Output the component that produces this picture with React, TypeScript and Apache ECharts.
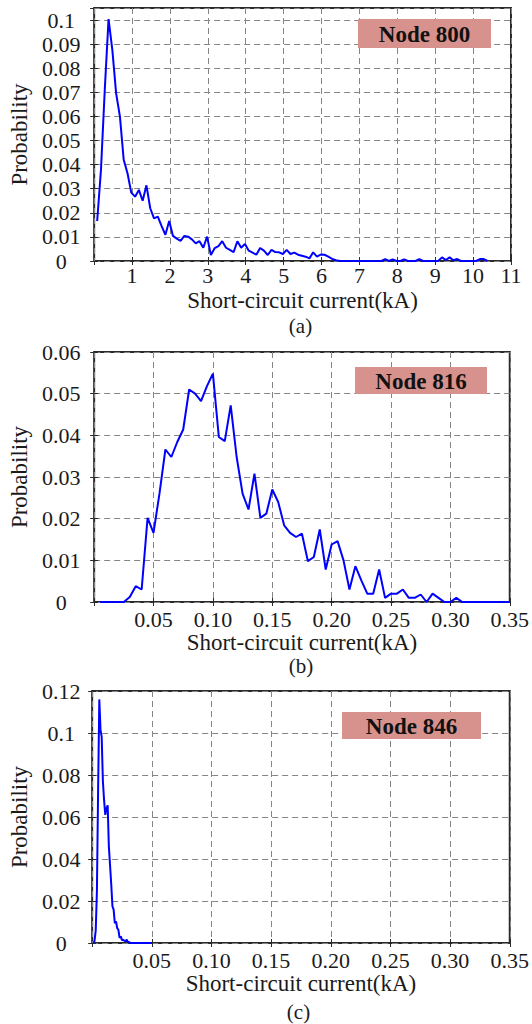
import React, { useEffect, useRef } from "react";
import * as echarts from "echarts";

// ---------------- Data ----------------
// Panel (a): Node 800 — histogram bins of 0.1 kA starting at 0.08 kA
const A_NODE = "Node 800";
const A_TAG = "(a)";
const A_BIN_START = 0.08;
const A_BIN_STEP = 0.1;
const A_PROB = [
  0.0166, 0.0378, 0.071, 0.1004, 0.0876, 0.0696, 0.06, 0.042, 0.0364, 0.0284,
  0.0267, 0.0295, 0.025, 0.0314, 0.0219, 0.0177, 0.0184, 0.0145, 0.0109, 0.0166,
  0.0104, 0.0093, 0.0084, 0.0104, 0.0101, 0.009, 0.0073, 0.0082, 0.0055, 0.0101,
  0.0025, 0.0053, 0.0062, 0.0082, 0.0055, 0.0046, 0.0037, 0.0082, 0.0055, 0.0071,
  0.0043, 0.0035, 0.0026, 0.0054, 0.0043, 0.0025, 0.0046, 0.0037, 0.0036, 0.0029,
  0.0046, 0.0029, 0.0035, 0.0026, 0.0022, 0.0018, 0.0011, 0.0036, 0.0018, 0.0027,
  0.0026, 0.0018, 0.0009, 0.0003, 0, 0, 0, 0, 0, 0,
  0, 0, 0, 0, 0, 0, 0.0008, 0, 0.0007, 0,
  0, 0.0007, 0, 0, 0, 0.0008, 0, 0, 0, 0,
  0, 0.0015, 0.0004, 0.0015, 0.0003, 0.0008, 0, 0, 0, 0,
  0, 0.0008, 0.0008, 0,
];

// Panel (b): Node 816 — bins of 0.005 kA starting at 0.005 kA
const B_NODE = "Node 816";
const B_TAG = "(b)";
const B_BIN_START = 0.005;
const B_BIN_STEP = 0.005;
const B_PROB = [
  0, 0, 0, 0, 0, 0.0012, 0.0038, 0.003, 0.0202, 0.0166,
  0.026, 0.0366, 0.0348, 0.0384, 0.0414, 0.051, 0.05, 0.0482, 0.0518, 0.0548,
  0.0396, 0.0386, 0.0472, 0.0348, 0.026, 0.0222, 0.0308, 0.0202, 0.0212, 0.027,
  0.024, 0.0184, 0.0166, 0.0156, 0.0164, 0.0098, 0.0108, 0.0174, 0.0078, 0.0138,
  0.0146, 0.01, 0.003, 0.0086, 0.0052, 0.002, 0.002, 0.0078, 0.001, 0.002,
  0.002, 0.003, 0.001, 0.001, 0.0018, 0, 0.002, 0.001, 0, 0,
  0.001, 0, 0, 0, 0, 0, 0, 0, 0, 0,
];

// Panel (c): Node 846 — bins of 0.001 kA starting at 0.001 kA
const C_NODE = "Node 846";
const C_TAG = "(c)";
const C_BIN_START = 0.001;
const C_BIN_STEP = 0.001;
const C_PROB = [
  0, 0.001, 0.006, 0.025, 0.073, 0.116, 0.1016, 0.098, 0.077, 0.068,
  0.061, 0.064, 0.0656, 0.046, 0.037, 0.028, 0.0175, 0.0159, 0.0095, 0.0103,
  0.0071, 0.0063, 0.0024, 0.0032, 0.0013, 0.0016, 0.001, 0.0008, 0.0016, 0.0003,
  0.0005, 0, 0, 0, 0, 0, 0, 0, 0, 0,
  0, 0, 0, 0, 0, 0, 0, 0, 0, 0,
];

const X_NAME = "Short-circuit current(kA)";
const Y_NAME = "Probability";

// ---------------- Layout / style ----------------
const FONT = "Liberation Serif, Times New Roman, serif";
const TEXT = "#1a1a1a";
const GRID_LINE = "#858585";
const FRAME = "#2a2a2a";
const LINE_BLUE = "#0000ff";
const BOX_FILL = "#d8928d";

type Panel = {
  node: string;
  tag: string;
  start: number;
  step: number;
  prob: number[];
  left: number;
  top: number;
  width: number;
  height: number;
  xMax: number;
  xInterval: number;
  xDecimals: number;
  yMax: number;
  yInterval: number;
  hideYMax: boolean;
  xLabelMargin: number;
  xNameGap: number;
  yLabelMargin: number;
  yNameGap: number;
  box: { x: number; y: number; w: number; h: number };
  tagY: number;
};

const PANELS: Panel[] = [
  {
    node: A_NODE, tag: A_TAG, start: A_BIN_START, step: A_BIN_STEP, prob: A_PROB,
    left: 90, top: 8, width: 421, height: 253,
    xMax: 11, xInterval: 1, xDecimals: 0, yMax: 0.105, yInterval: 0.01, hideYMax: true,
    xLabelMargin: 3, xNameGap: 28, yLabelMargin: 33, yNameGap: 58,
    box: { x: 358, y: 19, w: 133, h: 29 }, tagY: 326,
  },
  {
    node: B_NODE, tag: B_TAG, start: B_BIN_START, step: B_BIN_STEP, prob: B_PROB,
    left: 90, top: 352, width: 422, height: 250,
    xMax: 0.35, xInterval: 0.05, xDecimals: 2, yMax: 0.06, yInterval: 0.01, hideYMax: false,
    xLabelMargin: 6, xNameGap: 22, yLabelMargin: 33, yNameGap: 58,
    box: { x: 355, y: 367, w: 132, h: 27 }, tagY: 666,
  },
  {
    node: C_NODE, tag: C_TAG, start: C_BIN_START, step: C_BIN_STEP, prob: C_PROB,
    left: 87, top: 691, width: 423, height: 252,
    xMax: 0.35, xInterval: 0.05, xDecimals: 2, yMax: 0.12, yInterval: 0.02, hideYMax: false,
    xLabelMargin: 6, xNameGap: 25, yLabelMargin: 31, yNameGap: 56,
    box: { x: 342, y: 712, w: 139, h: 27 }, tagY: 1012,
  },
];

function buildOption() {
  const grid: any[] = [];
  const xAxis: any[] = [];
  const yAxis: any[] = [];
  const series: any[] = [];
  const graphic: any[] = [];

  const labelStyle = { fontFamily: FONT, fontSize: 22, color: TEXT };
  const tick = { show: true, inside: true, length: 4, lineStyle: { color: FRAME, width: 1 } };
  const split = { show: true, lineStyle: { color: GRID_LINE, type: [6, 4], width: 1 } };

  PANELS.forEach((p, i) => {
    grid.push({
      left: p.left, top: p.top, width: p.width, height: p.height,
      show: true, borderColor: FRAME, borderWidth: 2, backgroundColor: "transparent",
    });
    xAxis.push({
      type: "value", gridIndex: i, position: "bottom", min: 0, max: p.xMax, interval: p.xInterval,
      name: X_NAME, nameLocation: "middle", nameGap: p.xNameGap,
      nameTextStyle: { fontFamily: FONT, fontSize: 23, color: TEXT },
      axisLine: { show: false }, axisTick: tick, splitLine: split,
      axisLabel: {
        ...labelStyle, margin: p.xLabelMargin, showMinLabel: false,
        formatter: (v: number) => v.toFixed(p.xDecimals),
      },
    });
    xAxis.push({
      type: "value", gridIndex: i, position: "top", min: 0, max: p.xMax, interval: p.xInterval,
      axisLine: { show: false }, axisTick: tick, splitLine: { show: false }, axisLabel: { show: false },
    });
    yAxis.push({
      type: "value", gridIndex: i, position: "left", min: 0, max: p.yMax, interval: p.yInterval,
      name: Y_NAME, nameLocation: "middle", nameGap: p.yNameGap,
      nameTextStyle: { fontFamily: FONT, fontSize: 23, color: TEXT },
      axisLine: { show: false }, axisTick: tick, splitLine: split,
      axisLabel: { ...labelStyle, margin: p.yLabelMargin, align: "center", showMaxLabel: !p.hideYMax },
    });
    yAxis.push({
      type: "value", gridIndex: i, position: "right", min: 0, max: p.yMax, interval: p.yInterval,
      axisLine: { show: false }, axisTick: tick, splitLine: { show: false }, axisLabel: { show: false },
    });

    series.push({
      type: "line",
      xAxisIndex: i * 2,
      yAxisIndex: i * 2,
      data: p.prob.map((v, k) => [+(p.start + k * p.step).toFixed(4), v]),
      showSymbol: false,
      symbol: "none",
      lineStyle: { color: LINE_BLUE, width: 2 },
      itemStyle: { color: LINE_BLUE },
    });

    graphic.push({
      type: "rect",
      shape: { x: p.box.x, y: p.box.y, width: p.box.w, height: p.box.h },
      style: { fill: BOX_FILL },
      z: 100,
    });
    graphic.push({
      type: "text",
      x: p.box.x + p.box.w / 2,
      y: p.box.y + p.box.h / 2 + 1,
      z: 101,
      style: {
        text: p.node, fontFamily: FONT, fontSize: 23, fontWeight: "bold", fill: "#111",
        textAlign: "center", textVerticalAlign: "middle", align: "center", verticalAlign: "middle",
      },
    });
    graphic.push({
      type: "text",
      x: p.left + p.width / 2,
      y: p.tagY,
      z: 101,
      style: {
        text: p.tag, fontFamily: FONT, fontSize: 21, fill: TEXT,
        textAlign: "center", textVerticalAlign: "middle", align: "center", verticalAlign: "middle",
      },
    });
  });

  return { animation: false, backgroundColor: "#ffffff", grid, xAxis, yAxis, series, graphic };
}

export default function App() {
  const ref = useRef<HTMLDivElement>(null);
  useEffect(() => {
    document.body.style.margin = "0";
    const chart = echarts.init(ref.current as HTMLDivElement, null, { renderer: "svg" });
    chart.setOption(buildOption() as any);
    return () => chart.dispose();
  }, []);
  return <div ref={ref} style={{ width: 532, height: 1024 }} />;
}
